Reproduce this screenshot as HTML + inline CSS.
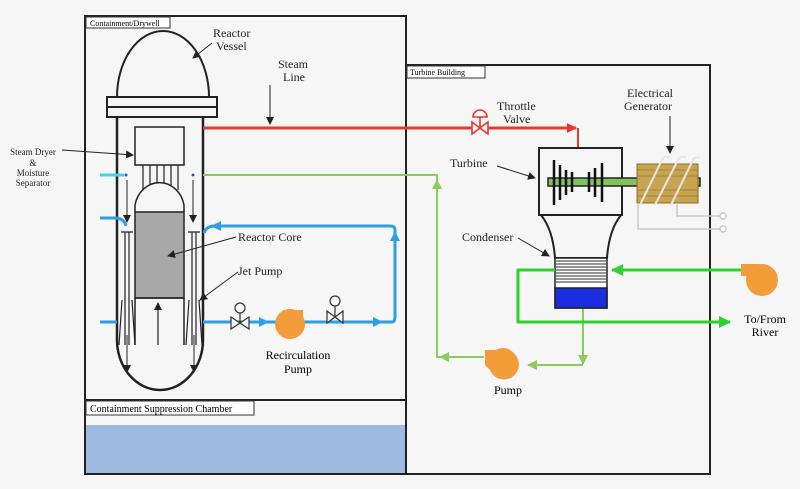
<!DOCTYPE html>
<html><head><meta charset="utf-8"><style>
html,body{margin:0;padding:0;background:#f6f6f6;}
svg{display:block;font-family:"Liberation Serif",serif;}
</style></head><body>
<svg width="800" height="489" viewBox="0 0 800 489" xmlns="http://www.w3.org/2000/svg">
<defs>
<marker id="ab" markerWidth="8" markerHeight="8" refX="7" refY="4" orient="auto" markerUnits="userSpaceOnUse"><path d="M0,0 L8,4 L0,8 Z" fill="#222"/></marker>
<marker id="ar" markerWidth="10" markerHeight="10" refX="9" refY="5" orient="auto" markerUnits="userSpaceOnUse"><path d="M0,0 L10,5 L0,10 Z" fill="#e8392f"/></marker>
<marker id="abl" markerWidth="10" markerHeight="10" refX="9" refY="5" orient="auto" markerUnits="userSpaceOnUse"><path d="M0,0 L10,5 L0,10 Z" fill="#2e9fe6"/></marker>
<marker id="ag" markerWidth="10" markerHeight="10" refX="9" refY="5" orient="auto" markerUnits="userSpaceOnUse"><path d="M0,0 L10,5 L0,10 Z" fill="#8ccb5e"/></marker>
<marker id="abg" markerWidth="12" markerHeight="12" refX="11" refY="6" orient="auto" markerUnits="userSpaceOnUse"><path d="M0,0 L12,6 L0,12 Z" fill="#2ed12e"/></marker>
</defs>
<rect width="800" height="489" fill="#f6f6f6"/>
<!-- water -->
<rect x="86" y="425" width="320" height="48" fill="#9dbae0"/>
<!-- boxes -->
<rect x="85" y="16" width="321" height="458" fill="none" stroke="#222" stroke-width="2"/>
<line x1="85" y1="400" x2="406" y2="400" stroke="#222" stroke-width="2"/>
<rect x="406" y="65" width="304" height="409" fill="none" stroke="#222" stroke-width="2"/>
<rect x="86" y="17" width="84" height="11" fill="#fff" stroke="#333"/>
<text x="90" y="26" font-size="8">Containment/Drywell</text>
<rect x="86" y="401" width="168" height="14" fill="#fff" stroke="#333"/>
<text x="90" y="412" font-size="10">Containment Suppression Chamber</text>
<rect x="407" y="66" width="78" height="12" fill="#fff" stroke="#333"/>
<text x="410" y="75" font-size="8">Turbine Building</text>

<!-- reactor vessel -->
<path d="M117,97 A46,66 0 0 1 209,97" fill="#f6f6f6" stroke="#222" stroke-width="2"/>
<rect x="107" y="97" width="110" height="10" fill="#f6f6f6" stroke="#222" stroke-width="2"/>
<rect x="107" y="107" width="110" height="10" fill="#f6f6f6" stroke="#222" stroke-width="2"/>
<path d="M117,117 L117,340 A43,50 0 0 0 203,340 L203,117" fill="none" stroke="#222" stroke-width="2.5"/>
<!-- steam dryer -->
<rect x="135" y="127" width="49" height="38" fill="#f6f6f6" stroke="#222" stroke-width="1.5"/>
<g stroke="#222" stroke-width="1.2"><line x1="143" y1="165" x2="143" y2="190"/><line x1="150" y1="165" x2="150" y2="190"/><line x1="157" y1="165" x2="157" y2="190"/><line x1="164" y1="165" x2="164" y2="190"/><line x1="171" y1="165" x2="171" y2="190"/><line x1="178" y1="165" x2="178" y2="190"/></g>
<path d="M135,212 L135,205 A25,28 0 0 1 184,205 L184,212" fill="#f6f6f6" stroke="#222" stroke-width="1.5"/>
<rect x="135" y="212" width="49" height="86" fill="#a8a8a8" stroke="#222" stroke-width="1.5"/>
<path d="M135,298 L135,345 M184,298 L184,345 M135,298 L184,298" stroke="#222" stroke-width="1.5" fill="none"/>
<line x1="158" y1="345" x2="158" y2="303" stroke="#222" stroke-width="1.2" marker-end="url(#ab)"/>
<!-- jet pumps -->
<g stroke="#222" stroke-width="1.2" fill="none">
<path d="M125,232 L125,345 M129,232 L129,345 M121,232 L133,232"/>
<path d="M192,232 L192,345 M196,232 L196,345 M188,232 L200,232"/>
<path d="M122,300 L119,345 M132,300 L135,345 M189,300 L186,345 M199,300 L202,345"/>
</g>
<g stroke="#222" stroke-width="1"><line x1="127" y1="180" x2="127" y2="222" marker-end="url(#ab)"/><line x1="193" y1="180" x2="193" y2="222" marker-end="url(#ab)"/><line x1="127" y1="335" x2="127" y2="372" marker-end="url(#ab)"/><line x1="194" y1="335" x2="194" y2="372" marker-end="url(#ab)"/></g>

<!-- feed stubs -->
<line x1="100" y1="175" x2="124" y2="175" stroke="#3fd2e8" stroke-width="3"/>
<circle cx="126" cy="175" r="1.5" fill="#2255dd"/><circle cx="193" cy="175" r="1.5" fill="#2255dd"/>
<path d="M100,218 L115,218 Q124,218 126,226" stroke="#2e9fe6" stroke-width="3" fill="none"/>
<line x1="100" y1="322" x2="117" y2="322" stroke="#2e9fe6" stroke-width="3"/>

<!-- steam line red -->
<path d="M203,128 L576,128" stroke="#e8392f" stroke-width="3" fill="none" marker-end="url(#ar)"/>
<path d="M578,128 L578,164" stroke="#e8392f" stroke-width="2" fill="none" marker-end="url(#ar)"/>
<g stroke="#e8392f" stroke-width="1.6" fill="#f6f6f6">
<path d="M472,122 L488,134 L488,122 L472,134 Z"/>
<line x1="480" y1="128" x2="480" y2="117"/>
<path d="M473,117 A7,7 0 0 1 487,117 Z"/>
</g>

<!-- feedwater light green -->
<path d="M484,357 L437,357 L437,175 L203,175" stroke="#8ccb5e" stroke-width="2" fill="none"/>
<line x1="484" y1="357" x2="440" y2="357" stroke="#8ccb5e" stroke-width="2" marker-end="url(#ag)"/>
<line x1="437" y1="200" x2="437" y2="180" stroke="#8ccb5e" stroke-width="2" marker-end="url(#ag)"/>
<path d="M583,308 L583,364" stroke="#8ccb5e" stroke-width="2" fill="none" marker-end="url(#ag)"/>
<path d="M583,365 L528,365" stroke="#8ccb5e" stroke-width="2" fill="none" marker-end="url(#ag)"/>
<!-- pump lower -->
<path d="M485,350 L500,350 A15,15 0 1 1 490,370 L485,365 Z" fill="#f39c3a"/>
<circle cx="503" cy="362" r="14" fill="#f39c3a"/>
<text x="494" y="394" font-size="12">Pump</text>

<!-- recirc blue -->
<path d="M203,322 L392,322 Q395,322 395,316 L395,230 Q395,226 390,226 L215,226 Q206,226 204,233" stroke="#2e9fe6" stroke-width="3" fill="none"/>
<line x1="250" y1="322" x2="268" y2="322" stroke="#2e9fe6" stroke-width="3" marker-end="url(#abl)"/>
<line x1="355" y1="322" x2="382" y2="322" stroke="#2e9fe6" stroke-width="3" marker-end="url(#abl)"/>
<line x1="395" y1="260" x2="395" y2="232" stroke="#2e9fe6" stroke-width="3" marker-end="url(#abl)"/>
<line x1="230" y1="226" x2="212" y2="226" stroke="#2e9fe6" stroke-width="3" marker-end="url(#abl)"/>
<g stroke="#333" stroke-width="1.2" fill="#f6f6f6">
<path d="M231,317 L249,329 L249,317 L231,329 Z"/><line x1="240" y1="323" x2="240" y2="313"/><circle cx="240" cy="308" r="5"/>
<path d="M327,311 L343,323 L343,311 L327,323 Z"/><line x1="335" y1="317" x2="335" y2="306"/><circle cx="335" cy="301" r="5"/>
</g>
<rect x="283" y="310" width="20" height="12" fill="#f39c3a"/>
<circle cx="290" cy="324" r="15" fill="#f39c3a"/>
<text x="298" y="359" font-size="12" text-anchor="middle">Recirculation</text>
<text x="298" y="373" font-size="12" text-anchor="middle">Pump</text>

<!-- turbine -->
<path d="M541,215 Q553,230 555,258 L607,258 Q609,230 621,215" fill="#f6f6f6" stroke="#222" stroke-width="2"/>
<rect x="539" y="148" width="83" height="67" fill="#f6f6f6" stroke="#222" stroke-width="2"/>
<rect x="548" y="178" width="152" height="8" fill="#7fc35a" stroke="#222" stroke-width="1.5"/>
<g stroke="#111" stroke-width="2.5">
<line x1="554" y1="160" x2="554" y2="205"/><line x1="560" y1="165" x2="560" y2="200"/><line x1="566" y1="170" x2="566" y2="195"/><line x1="572" y1="172" x2="572" y2="192"/><line x1="589" y1="172" x2="589" y2="192"/><line x1="595" y1="168" x2="595" y2="197"/><line x1="602" y1="163" x2="602" y2="202"/>
</g>
<!-- condenser -->
<rect x="555" y="258" width="52" height="50" fill="#fff" stroke="#222" stroke-width="1.5"/>
<g stroke="#555" stroke-width="1.3"><line x1="555" y1="261" x2="607" y2="261"/><line x1="555" y1="264" x2="607" y2="264"/><line x1="555" y1="267" x2="607" y2="267"/><line x1="555" y1="270" x2="607" y2="270"/><line x1="555" y1="273" x2="607" y2="273"/><line x1="555" y1="276" x2="607" y2="276"/><line x1="555" y1="279" x2="607" y2="279"/><line x1="555" y1="282" x2="607" y2="282"/></g>
<rect x="555" y="288" width="52" height="20" fill="#1a2ee0" stroke="#222" stroke-width="1.5"/>
<!-- generator -->
<rect x="637" y="164" width="61" height="39" fill="#c8a451" stroke="#8a6a20"/>
<g stroke="#9a7a30" stroke-width="0.8"><line x1="637" y1="170" x2="698" y2="170"/><line x1="637" y1="176" x2="698" y2="176"/><line x1="637" y1="190" x2="698" y2="190"/><line x1="637" y1="196" x2="698" y2="196"/></g>
<g stroke="#e6e6e6" stroke-width="2" fill="none">
<path d="M640,205 L662,160 A5,5 0 0 1 670,158"/><path d="M655,205 L678,160 A5,5 0 0 1 686,158"/><path d="M671,205 L693,160 A5,5 0 0 1 700,158"/>
</g>
<g stroke="#c8c8c8" stroke-width="1.5" fill="none">
<path d="M638,203 L638,229 L720,229"/><path d="M677,203 L677,216 L720,216"/>
<circle cx="723" cy="216" r="3" fill="#fff"/><circle cx="723" cy="229" r="3" fill="#fff"/>
</g>
<!-- river green -->
<path d="M745,270 L612,270" stroke="#2ed12e" stroke-width="3" fill="none" marker-end="url(#abg)"/>
<path d="M555,270 L518,270 L518,322 L730,322" stroke="#2ed12e" stroke-width="3" fill="none" marker-end="url(#abg)"/>
<rect x="741" y="264" width="18" height="12" fill="#f39c3a"/>
<circle cx="762" cy="280" r="16" fill="#f39c3a"/>
<text x="765" y="323" font-size="12" text-anchor="middle">To/From</text>
<text x="765" y="336" font-size="12" text-anchor="middle">River</text>

<!-- labels -->
<g font-size="12" fill="#222">
<text x="213" y="37">Reactor</text><text x="216" y="50">Vessel</text>
<text x="278" y="68">Steam</text><text x="283" y="81">Line</text>
<text x="497" y="110">Throttle</text><text x="503" y="123">Valve</text>
<text x="627" y="97">Electrical</text><text x="624" y="110">Generator</text>
<text x="450" y="167">Turbine</text>
<text x="462" y="241">Condenser</text>
<text x="238" y="241">Reactor Core</text>
<text x="238" y="275">Jet Pump</text>
</g>
<g font-size="9" fill="#222" text-anchor="middle">
<text x="33" y="155">Steam Dryer</text><text x="33" y="166">&amp;</text><text x="33" y="176">Moisture</text><text x="33" y="186">Separator</text>
</g>
<!-- pointer lines -->
<g stroke="#222" stroke-width="1" fill="none">
<line x1="212" y1="43" x2="193" y2="58" marker-end="url(#ab)"/>
<line x1="270" y1="85" x2="270" y2="124" marker-end="url(#ab)"/>
<line x1="62" y1="150" x2="133" y2="155" marker-end="url(#ab)"/>
<line x1="236" y1="237" x2="168" y2="256" marker-end="url(#ab)"/>
<line x1="238" y1="272" x2="200" y2="300" marker-end="url(#ab)"/>
<line x1="497" y1="166" x2="535" y2="178" marker-end="url(#ab)"/>
<line x1="518" y1="238" x2="549" y2="256" marker-end="url(#ab)"/>
<line x1="670" y1="116" x2="670" y2="153" marker-end="url(#ab)"/>
</g>
</svg>
</body></html>
